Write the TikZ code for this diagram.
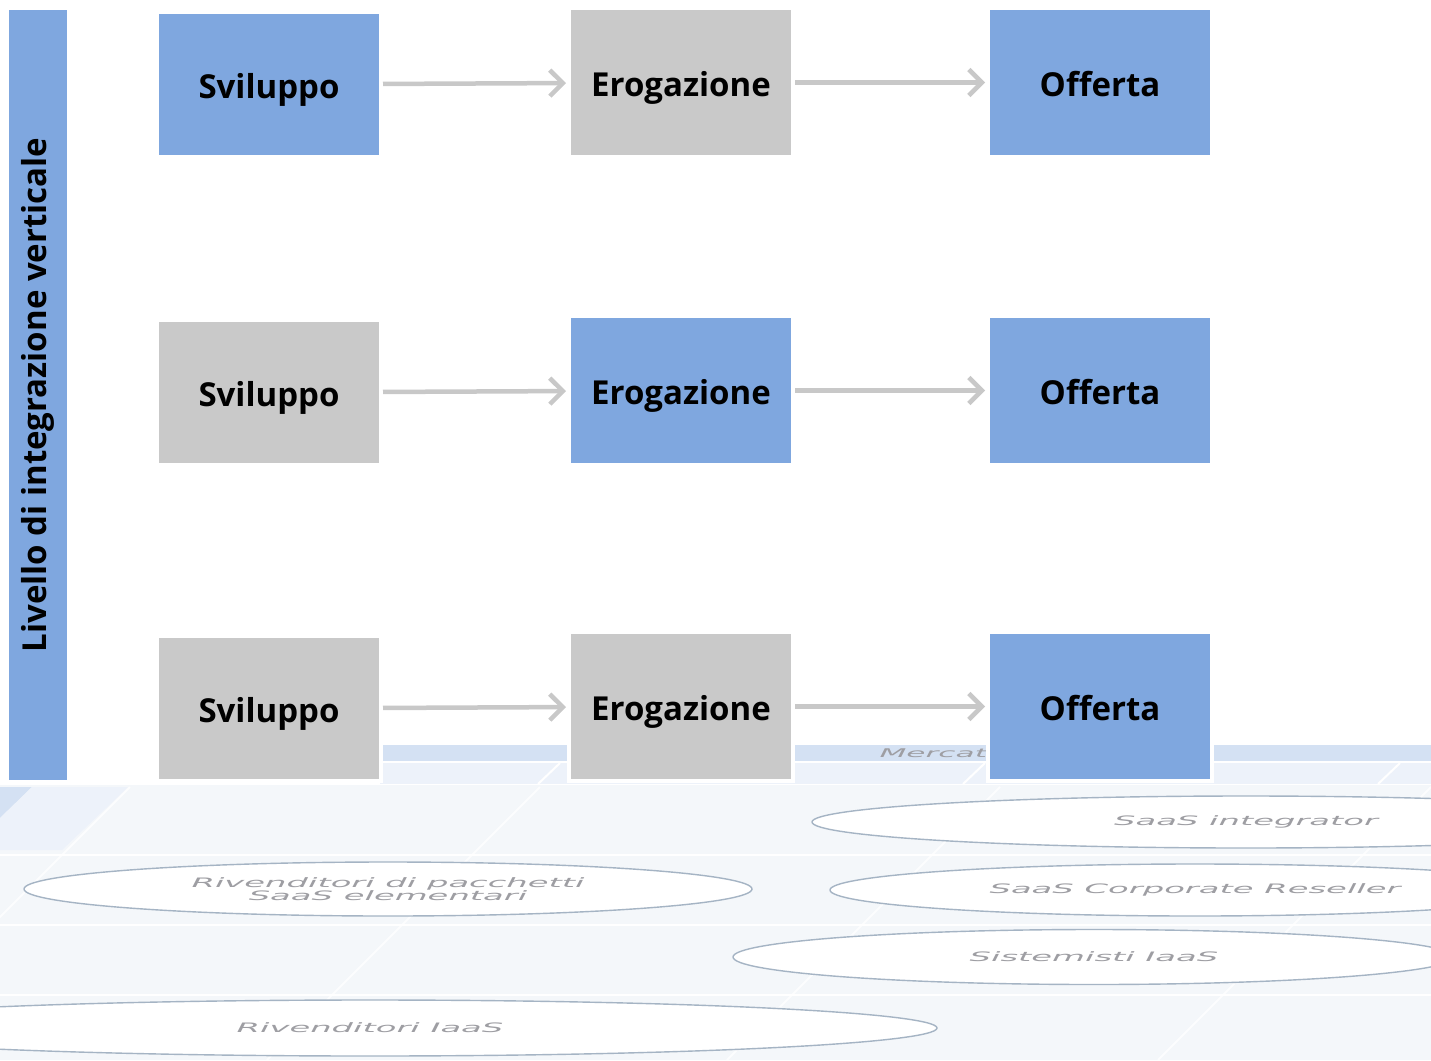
\documentclass[tikz,border=0pt]{standalone}
\usepackage{fontspec}
\setmainfont{Open Sans}
\newfontfamily\bgfont{DejaVu Sans}
\usetikzlibrary{arrows.meta,shapes.geometric}
\definecolor{boxblue}{RGB}{127,167,223}
\definecolor{boxgray}{RGB}{201,201,201}
\definecolor{arrowgray}{RGB}{200,200,200}
\definecolor{bgpale}{RGB}{244,247,250}
\definecolor{hdrblue}{RGB}{212,225,243}
\definecolor{hdrpale}{RGB}{237,242,250}
\definecolor{ringgray}{RGB}{165,180,196}
\definecolor{bgtext}{RGB}{158,158,163}
\newcommand{\widetxt}[1]{\scalebox{2.6}[1]{#1}}
\tikzset{
  stage/.style={rectangle, draw=white, line width=4pt, minimum width=224pt,
    minimum height=149pt, inner sep=0pt, text=black, text height=30pt,
    text depth=2pt, font=\fontsize{33}{38}\selectfont\bfseries},
  blu/.style={stage, fill=boxblue},
  gry/.style={stage, fill=boxgray},
  flow/.style={draw=arrowgray, line width=4.5pt,
    -{Straight Barb[length=13pt,width=26pt]}, shorten <=0pt, shorten >=1pt},
  market/.style={ellipse, draw=ringgray, line width=1.4pt, fill=white,
    inner sep=0pt, text=bgtext, align=center,
    font=\bgfont\itshape\fontsize{13}{12}\selectfont},
}
\begin{document}
\begin{tikzpicture}[x=1pt,y=-1pt]
  \clip (0,0) rectangle (1431,1060);
  \fill[white] (0,0) rectangle (1431,1060);
  % faded market map behind the chain
  \fill[bgpale] (0,785) rectangle (1431,1060);
  \fill[hdrblue] (380,745) rectangle (1431,761);
  \fill[hdrpale] (380,763) rectangle (1431,784);
  \fill[hdrblue] (0,787) -- (32,787) -- (0,818) -- cycle;
  \fill[hdrpale] (32,787) -- (128,787) -- (62,850) -- (0,850) -- (0,818) -- cycle;
  \foreach \x in {560,985,1400}
    \draw[white, line width=2pt] (\x,763) -- ++(-22,21);
  \foreach \x in {130,540,1000,1431}
    \draw[white, line width=2pt, opacity=0.8] (\x,787) -- ++(-273,273);
  \foreach \y in {855,925,995}
    \draw[white, line width=2.5pt] (0,\y) -- (1431,\y);
  \node[anchor=west, text=bgtext, font=\bgfont\itshape\fontsize{12}{12}\selectfont]
    (mercati) at (876,753) {\scalebox{2.6}[1]{Mercati}};
  \node[market, minimum width=868pt, minimum height=52pt] (integrator) at (1246,822)
    {\widetxt{SaaS integrator}};
  \node[market, minimum width=728pt, minimum height=54pt] (pacchetti) at (388,889)
    {\widetxt{Rivenditori di pacchetti}\\\widetxt{SaaS elementari}};
  \node[market, minimum width=730pt, minimum height=52pt] (reseller) at (1195,890)
    {\widetxt{SaaS Corporate Reseller}};
  \node[market, minimum width=722pt, minimum height=55pt] (sistemisti) at (1094,957)
    {\widetxt{Sistemisti IaaS}};
  \node[market, minimum width=1134pt, minimum height=56pt] (rivenditori) at (370,1028)
    {\widetxt{Rivenditori IaaS}};
  % vertical integration bar
  \node[rectangle, fill=boxblue, rotate=90, minimum width=770pt, minimum height=58pt,
    inner sep=0pt, font=\fontsize{33}{38}\selectfont\bfseries] (livello) at (38,395)
    {Livello di integrazione verticale};
  % first chain
  \node[blu, minimum height=145pt] (s1) at (269,84.5) {Sviluppo};
  \node[gry] (e1) at (681,82.5) {Erogazione};
  \node[blu] (o1) at (1100,82.5) {Offerta};
  % second chain
  \node[gry, minimum height=145pt] (s2) at (269,392.5) {Sviluppo};
  \node[blu] (e2) at (681,390.5) {Erogazione};
  \node[blu] (o2) at (1100,390.5) {Offerta};
  % third chain
  \node[gry, minimum height=145pt] (s3) at (269,708.5) {Sviluppo};
  \node[gry] (e3) at (681,706.5) {Erogazione};
  \node[blu] (o3) at (1100,706.5) {Offerta};
  \foreach \r in {1,2,3} {
    \draw[flow] (s\r) -- (e\r);
    \draw[flow] (e\r) -- (o\r);
  }
\end{tikzpicture}
\end{document}
